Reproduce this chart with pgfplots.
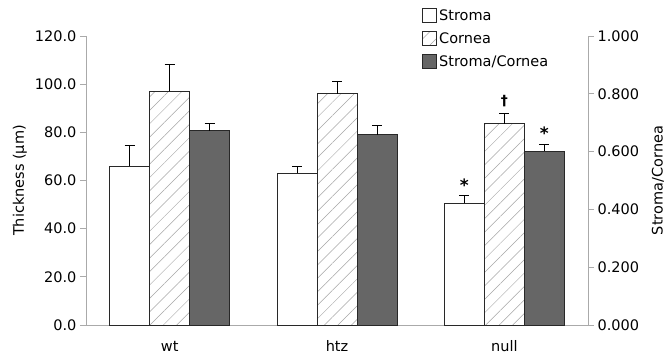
\documentclass[border=0pt]{standalone}
\usepackage{pgfplots}
\pgfplotsset{compat=1.18}
\usepackage{fontspec}
\setmainfont{DejaVu Sans}
\usetikzlibrary{patterns.meta}
\definecolor{axgray}{RGB}{170,170,170}
\definecolor{bardark}{RGB}{102,102,102}
\definecolor{edge}{RGB}{40,40,40}
\begin{document}
\begin{tikzpicture}
\useasboundingbox (-86pt,-29pt) rectangle (582pt,325pt);
\pgfplotsset{
  common/.style={
    at={(0pt,0pt)}, anchor=south west,
    scale only axis, width=502pt, height=289pt,
    xmin=-0.5, xmax=2.5, ymin=0,
    axis line style={axgray, line width=0.8pt},
    every tick/.style={axgray, line width=0.8pt},
    tick label style={font=\fontsize{14.5}{16}\selectfont, black},
    label style={font=\fontsize{14.5}{16}\selectfont, black},
    /pgf/number format/assume math mode=true,
    ybar, bar width=40pt,
    error bars/y dir=plus, error bars/y explicit,
    error bars/error bar style={black, line width=0.9pt},
    error bars/error mark options={rotate=90, mark size=5pt, line width=0.9pt},
  },
}
\begin{axis}[common,
  ymax=120, ytick={0,20,...,120},
  axis x line*=bottom, axis y line*=left,
  xtick={0,1,2}, xticklabels={wt,htz,null}, major x tick style={draw=none},
  extra x ticks={0.5,1.5}, extra x tick labels={},
  extra x tick style={major tick length=6pt, tick style={axgray}},
  xticklabel style={anchor=base, yshift=-20pt},
  tick align=outside, major tick length=6pt,
  yticklabel style={/pgf/number format/.cd, fixed, fixed zerofill, precision=1},
  ylabel={Thickness (μm)},
  ylabel style={at={([xshift=-66pt]axis description cs:0,0.5)}, anchor=center},
]
\addplot[draw=edge, line width=1pt, fill=white, bar shift=-40pt]
  coordinates {(0,66) +- (0,8.5) (1,63) +- (0,3) (2,50.5) +- (0,3.3)};
\addplot[draw=edge, line width=1pt, fill=white,
  postaction={pattern={Lines[angle=45,distance=9.5pt,line width=0.5pt]}, pattern color=gray!70},
  bar shift=0pt]
  coordinates {(0,97) +- (0,11) (1,96) +- (0,5) (2,83.5) +- (0,4.2)};
\node[font=\fontsize{17}{17}\selectfont\bfseries] at ([xshift=-40pt]axis cs:2,58) {*};
\node[font=\fontsize{14}{14}\selectfont\bfseries] at (axis cs:2,93) {†};
\node[font=\fontsize{17}{17}\selectfont\bfseries] at ([xshift=40pt]axis cs:2,79.5) {*};
\end{axis}
\begin{axis}[common,
  ymax=1, ytick={0,0.2,...,1.0},
  axis x line=none, axis y line*=right,
  tick align=outside, major tick length=6pt,
  yticklabel style={/pgf/number format/.cd, fixed, fixed zerofill, precision=3},
  ylabel={Stroma/Cornea},
  ylabel style={at={([xshift=70pt]axis description cs:1,0.5)}, anchor=center},
  legend style={at={([xshift=336pt,yshift=28pt]axis description cs:0,1)}, anchor=north west, draw=none, fill=none,
    font=\fontsize{14.5}{16}\selectfont, row sep=6.5pt, inner sep=0pt,
    /tikz/every even column/.style={column sep=3pt}},
  legend cell align=left,
  legend image code/.code={\draw[#1, line width=1pt] (0pt,-6.5pt) rectangle (14pt,7.5pt);},
]
\addlegendimage{draw=edge, fill=white}
\addlegendentry{Stroma}
\addlegendimage{draw=edge, fill=white, postaction={pattern={Lines[angle=45,distance=9.5pt,line width=0.5pt]}, pattern color=gray!70}}
\addlegendentry{Cornea}
\addplot[draw=edge, line width=1pt, fill=bardark, bar shift=40pt]
  coordinates {(0,0.672) +- (0,0.025) (1,0.658) +- (0,0.033) (2,0.602) +- (0,0.024)};
\addlegendentry{Stroma/Cornea}
\end{axis}
\end{tikzpicture}
\end{document}
